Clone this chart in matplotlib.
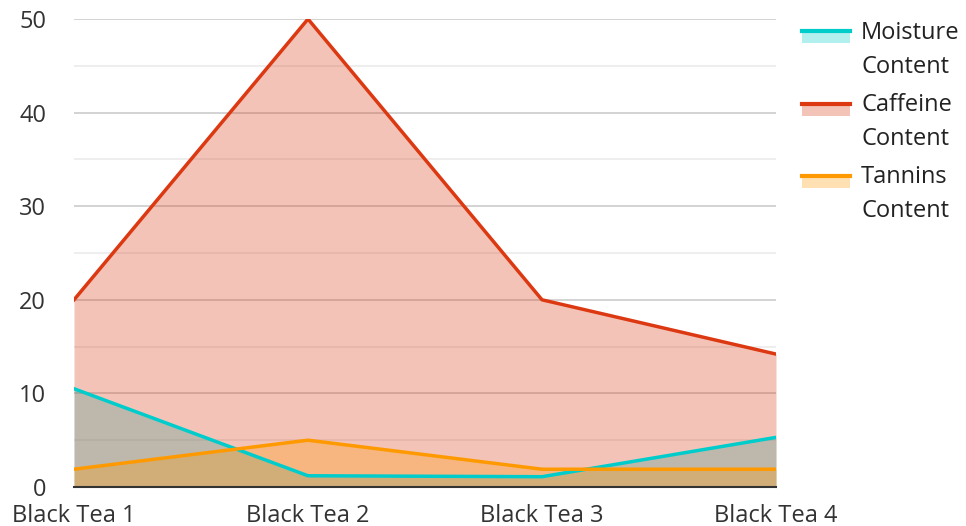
import matplotlib.pyplot as plt
from matplotlib.legend_handler import HandlerBase
from matplotlib.patches import Rectangle
from matplotlib.lines import Line2D

plt.rcParams['font.family'] = ['Open Sans', 'DejaVu Sans']

teas = ['Black Tea 1', 'Black Tea 2', 'Black Tea 3', 'Black Tea 4']
moisture = [10.5, 1.2, 1.1, 5.3]
caffeine = [20, 50, 20, 14.2]
tannins = [1.9, 5.0, 1.9, 1.9]

series = [
    ('Moisture\nContent', moisture, '#00CCCC'),
    ('Caffeine\nContent', caffeine, '#DC3912'),
    ('Tannins\nContent', tannins, '#FF9900'),
]


class AreaHandler(HandlerBase):
    # line on top of a light block, like the legend keys in the original
    def __init__(self, color):
        super().__init__()
        self.color = color

    def create_artists(self, legend, orig_handle, xdescent, ydescent, width, height, fontsize, trans):
        top = -ydescent + height * 1.65
        bh = height * 0.72
        rect = Rectangle((-xdescent, top - bh), width, bh,
                         facecolor=self.color, alpha=0.3, edgecolor='none', transform=trans)
        line = Line2D([-xdescent, -xdescent + width], [top, top],
                      color=self.color, lw=3, transform=trans)
        return [rect, line]


fig = plt.figure(figsize=(9.66, 5.26), dpi=100)
ax = fig.add_axes([74 / 966, 39 / 526, 702 / 966, 468 / 526])

x = list(range(len(teas)))
handles = []
handler_map = {}
for label, vals, color in series:
    ax.fill_between(x, 0, vals, color=color, alpha=0.3, lw=0, zorder=2)
    ln, = ax.plot(x, vals, color=color, lw=2.5, label=label, zorder=3)
    handles.append(ln)
    handler_map[ln] = AreaHandler(color)

ax.set_xlim(0, 3)
ax.set_ylim(0, 50)
ax.set_yticks([0, 10, 20, 30, 40, 50])
ax.set_yticks([5, 15, 25, 35, 45], minor=True)
ax.grid(axis='y', which='major', color='#cccccc', lw=1.2, zorder=1)
ax.grid(axis='y', which='minor', color='#ebebeb', lw=1.2, zorder=1)
ax.set_xticks(x)
ax.set_xticklabels(teas)
ax.tick_params(axis='both', which='both', length=0, labelsize=17, labelcolor='#333333')
ax.tick_params(axis='y', pad=20)
ax.tick_params(axis='x', pad=12.5)
for s in ['top', 'right', 'left']:
    ax.spines[s].set_visible(False)
ax.spines['bottom'].set_color('#333333')
ax.spines['bottom'].set_linewidth(1.5)
ax.spines['bottom'].set_zorder(4)

leg = ax.legend(handles=handles, handler_map=handler_map, loc='upper left',
                bbox_to_anchor=(802 / 966, 1 - 21 / 526), bbox_transform=fig.transFigure,
                frameon=False, fontsize=17, borderpad=0, borderaxespad=0,
                handlelength=2.03, handletextpad=0.47, labelspacing=0.62,
                labelcolor='#222222')
for t in leg.get_texts():
    t.set_linespacing(1.53)

fig.savefig('out.png', dpi=100)
